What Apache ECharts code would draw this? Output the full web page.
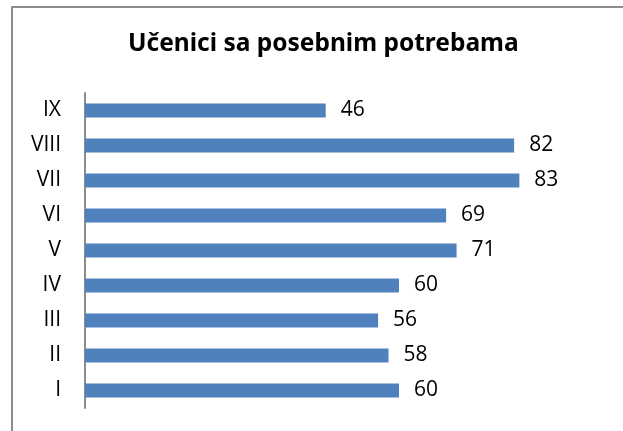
<!DOCTYPE html>
<html>
<head>
<meta charset="utf-8">
<script src="https://cdn.jsdelivr.net/npm/echarts@6/dist/echarts.min.js"></script>
<style>
  html, body { margin: 0; padding: 0; background: #fff; }
  #chart { width: 623px; height: 431px; }
</style>
</head>
<body>
<div id="chart"></div>
<script>
var razredi = ['I', 'II', 'III', 'IV', 'V', 'VI', 'VII', 'VIII', 'IX'];
var ucenici = [60, 58, 56, 60, 71, 69, 83, 82, 46];

(function(){
	var myChart = echarts.init(document.getElementById('chart'));
	var option = {
		backgroundColor: '#fff',
		graphic: [
			{
				// okvir grafikona (desna i donja ivica su van slike)
				type: 'rect',
				shape: { x: 12, y: 7, width: 640, height: 460 },
				style: { fill: 'none', stroke: '#8c8c8c', lineWidth: 2 },
				silent: true
			}
		],
		title: {
			text: 'Učenici sa posebnim potrebama',
			left: 123,
			top: 27,
			textStyle: {
				fontFamily: 'Noto Sans',
				fontWeight: 'bold',
				fontSize: 24.5,
				color: '#000'
			}
		},
		grid: {
			left: 85,
			top: 93,
			width: 471,
			height: 315
		},
		xAxis: {
			type: 'value',
			min: 0,
			max: 90,
			show: false
		},
		yAxis: {
			type: 'category',
			data: razredi,
			axisLine: {
				show: true,
				lineStyle: { color: '#8c8c8c', width: 2 }
			},
			axisTick: { show: false },
			axisLabel: {
				margin: 24,
				fontFamily: 'Open Sans',
				fontSize: 21,
				color: '#000'
			}
		},
		series: [
			{
				type: 'bar',
				data: ucenici,
				barWidth: 14,
				itemStyle: { color: '#4f81bd' },
				label: {
					show: true,
					position: 'right',
					distance: 15,
					fontFamily: 'Open Sans',
					fontSize: 21,
					color: '#000'
				}
			}
		]
	};
	myChart.setOption(option);
})();
</script>
</body>
</html>
